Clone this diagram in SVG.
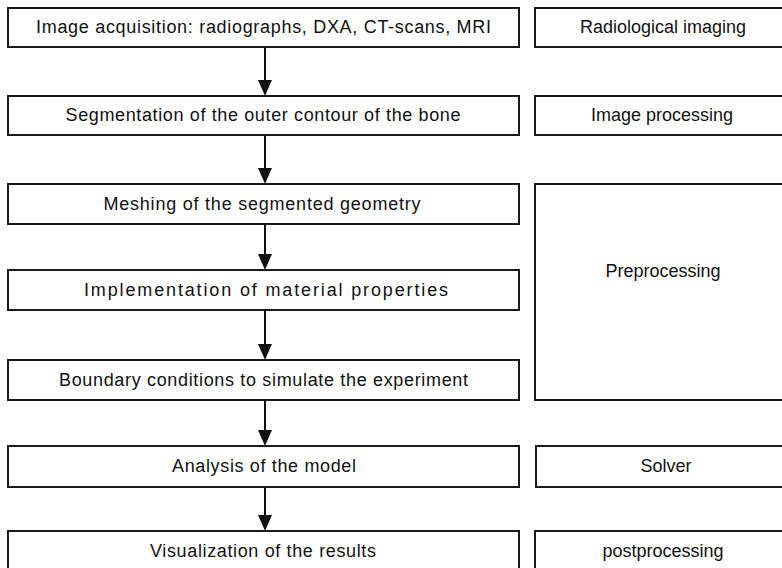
<svg xmlns="http://www.w3.org/2000/svg" width="782" height="568" viewBox="0 0 782 568">
<style>
.box{fill:#fff;stroke:#1a1a1a;stroke-width:2}
.t{font-family:"Liberation Sans",Arial,sans-serif;font-size:18px;fill:#111;text-anchor:middle}
.c{stroke:#111;stroke-width:2;fill:none}
.h{fill:#111}
</style>
<rect width="782" height="568" fill="#fff"/>
<g id="connectors">
<line class="c" x1="265" y1="47" x2="265" y2="80"/><path class="h" d="M258,80 L272,80 L265,96 Z"/>
<line class="c" x1="265" y1="135" x2="265" y2="168"/><path class="h" d="M258,168 L272,168 L265,184 Z"/>
<line class="c" x1="265" y1="224" x2="265" y2="254"/><path class="h" d="M258,254 L272,254 L265,270 Z"/>
<line class="c" x1="265" y1="310" x2="265" y2="344"/><path class="h" d="M258,344 L272,344 L265,360 Z"/>
<line class="c" x1="265" y1="400" x2="265" y2="430"/><path class="h" d="M258,430 L272,430 L265,446 Z"/>
<line class="c" x1="265" y1="487" x2="265" y2="515"/><path class="h" d="M258,515 L272,515 L265,531 Z"/>
</g>
<g id="n1"><rect class="box" x="8" y="8" width="511" height="39"/><text class="t" x="263.5" y="33" textLength="455" lengthAdjust="spacing">Image acquisition: radiographs, DXA, CT-scans, MRI</text></g>
<g id="n2"><rect class="box" x="8" y="96" width="511" height="39"/><text class="t" x="263" y="121" textLength="395" lengthAdjust="spacing">Segmentation of the outer contour of the bone</text></g>
<g id="n3"><rect class="box" x="8" y="184" width="511" height="40"/><text class="t" x="262" y="210" textLength="317" lengthAdjust="spacing">Meshing of the segmented geometry</text></g>
<g id="n4"><rect class="box" x="8" y="270" width="511" height="40"/><text class="t" x="266" y="296" textLength="364" lengthAdjust="spacing">Implementation of material properties</text></g>
<g id="n5"><rect class="box" x="8" y="360" width="511" height="40"/><text class="t" x="263.5" y="386" textLength="409" lengthAdjust="spacing">Boundary conditions to simulate the experiment</text></g>
<g id="n6"><rect class="box" x="8" y="446" width="511" height="41"/><text class="t" x="264" y="472" textLength="184" lengthAdjust="spacing">Analysis of the model</text></g>
<g id="n7"><rect class="box" x="8" y="531" width="511" height="42"/><text class="t" x="263" y="557" textLength="226" lengthAdjust="spacing">Visualization of the results</text></g>
<g id="r1"><rect class="box" x="535" y="8" width="256" height="39"/><text class="t" x="663" y="33">Radiological imaging</text></g>
<g id="r2"><rect class="box" x="535" y="96" width="256" height="39"/><text class="t" x="662" y="121">Image processing</text></g>
<g id="r3"><rect class="box" x="535" y="184" width="256" height="216"/><text class="t" x="663" y="277">Preprocessing</text></g>
<g id="r4"><rect class="box" x="536" y="446" width="256" height="41"/><text class="t" x="666" y="472">Solver</text></g>
<g id="r5"><rect class="box" x="535" y="531" width="256" height="42"/><text class="t" x="663" y="557">postprocessing</text></g>
</svg>
